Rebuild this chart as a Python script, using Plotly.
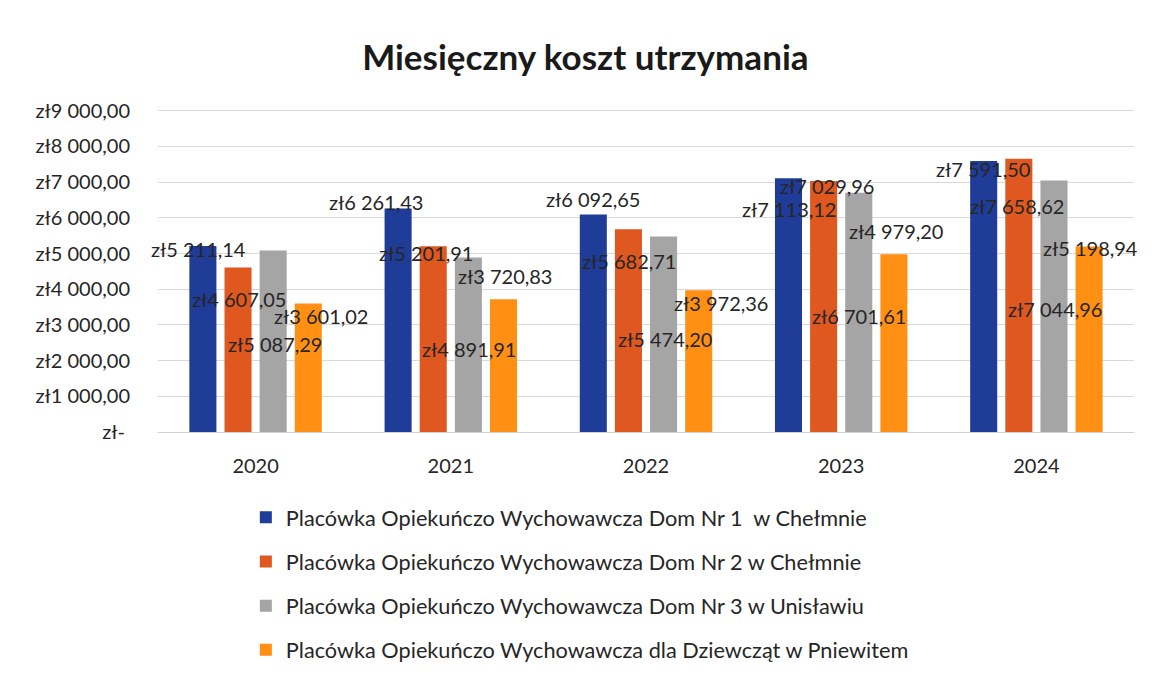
import plotly.graph_objects as go

YEARS = ["2020", "2021", "2022", "2023", "2024"]

SERIES = [
    "Placówka Opiekuńczo Wychowawcza Dom Nr 1  w Chełmnie",
    "Placówka Opiekuńczo Wychowawcza Dom Nr 2 w Chełmnie",
    "Placówka Opiekuńczo Wychowawcza Dom Nr 3 w Unisławiu",
    "Placówka Opiekuńczo Wychowawcza dla Dziewcząt w Pniewitem",
]

DOM1 = [5211.14, 6261.43, 6092.65, 7113.12, 7591.50]
DOM2 = [4607.05, 5201.91, 5682.71, 7029.96, 7658.62]
DOM3 = [5087.29, 4891.91, 5474.20, 6701.61, 7044.96]
DOM4 = [3601.02, 3720.83, 3972.36, 4979.20, 5198.94]

Y_TICKS = [0, 1000, 2000, 3000, 4000, 5000, 6000, 7000, 8000, 9000]

# where the (misplaced) data labels sit in the scanned original, in axis units
LABEL_Y = [
    [5131, 6448, 6532, 6252, 7373],
    [3729, 5018, 4794, 6897, 6336],
    [2467, 2327, 2607, 3252, 3448],
    [3252, 4373, 3617, 5635, 5158],
]
LABEL_DX = [
    [-4, -22, 0, 1, 0],
    [1, -7, 1, 3, -2],
    [2, 1, 1, 0, 1],
    [12, 1, 22, 2, 1],
]

COLORS = ["#1f3c98", "#de5820", "#a5a5a5", "#ff9013"]
FONT = "Lato, 'Open Sans', sans-serif"
TEXT = "#262626"


def pln(v):
    whole = int(v)
    cents = round((v - whole) * 100)
    s = f"{whole:,}".replace(",", " ")
    return f"zł{s},{cents:02d}"


def tick_label(v):
    if v == 0:
        return "zł-\u00a0"
    return pln(v)


fig = go.Figure()
for i, (name, vals) in enumerate(zip(SERIES, [DOM1, DOM2, DOM3, DOM4])):
    fig.add_trace(
        go.Bar(
            name=name,
            x=YEARS,
            y=vals,
            marker=dict(color=COLORS[i], line=dict(width=0)),
            legendgroup=f"g{i}",
        )
    )

annotations = []
for i, vals in enumerate([DOM1, DOM2, DOM3, DOM4]):
    for j, v in enumerate(vals):
        annotations.append(
            dict(
                x=j,  # category index
                y=LABEL_Y[i][j],
                xref="x",
                yref="y",
                text=pln(v),
                showarrow=False,
                xshift=(i - 1.5) * 35.3 + LABEL_DX[i][j],
                font=dict(family=FONT, size=20, color=TEXT),
            )
        )

fig.update_layout(
    width=1157,
    height=682,
    paper_bgcolor="white",
    plot_bgcolor="white",
    font=dict(family=FONT, color=TEXT, size=18),
    title=dict(
        text="<b>Miesięczny koszt utrzymania</b>",
        font=dict(family=FONT, size=35, color="#1a1a1a"),
        x=0.499,
        xanchor="center",
        y=1 - 50 / 682,
        yanchor="middle",
    ),
    barmode="group",
    bargap=0.28,
    bargroupgap=0.23,
    xaxis=dict(
        type="category",
        range=[-0.5, 4.5],
        showgrid=False,
        showline=True,
        linecolor="#d0d0d0",
        ticks="",
        ticklabelstandoff=16,
        tickfont=dict(size=20, color=TEXT),
    ),
    yaxis=dict(
        range=[0, 9050],
        tickvals=Y_TICKS,
        ticktext=[tick_label(v) for v in Y_TICKS],
        gridcolor="#d9d9d9",
        zeroline=False,
        ticks="",
        ticklabelstandoff=27,
        tickfont=dict(size=20, color=TEXT),
    ),
    legend=dict(
        orientation="v",
        x=0.09,
        xanchor="left",
        y=-0.2,
        yanchor="top",
        font=dict(family=FONT, size=21.7, color=TEXT),
        tracegroupgap=13,
        itemwidth=30,
        bgcolor="rgba(0,0,0,0)",
    ),
    showlegend=True,
    annotations=annotations,
    margin=dict(l=150, r=31, t=101, b=258),
)

fig.write_html("out.html")
